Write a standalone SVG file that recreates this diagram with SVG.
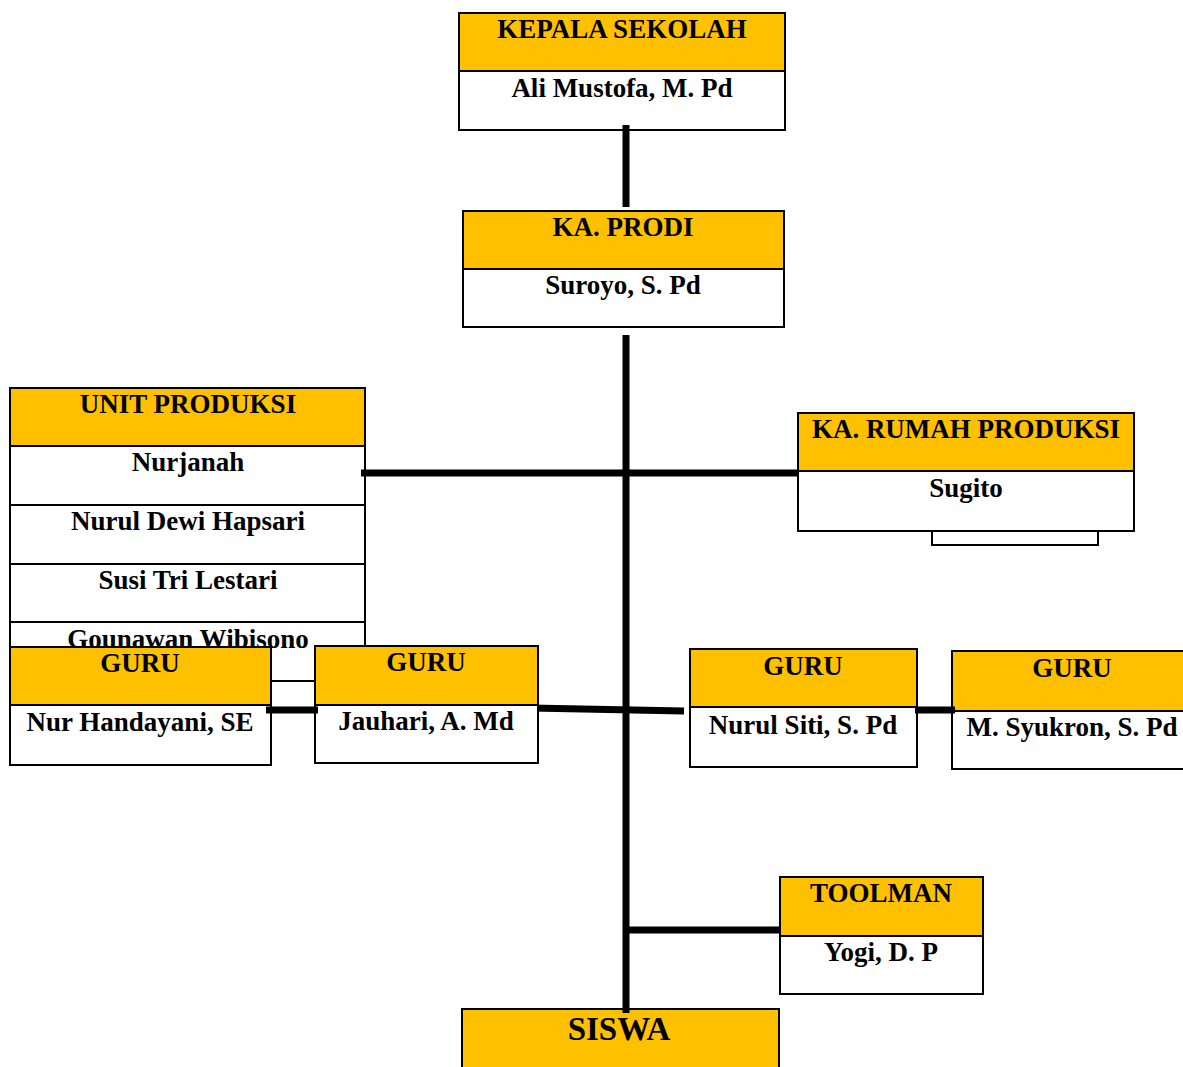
<svg xmlns="http://www.w3.org/2000/svg" width="1183" height="1067" viewBox="0 0 1183 1067">
<style>
.hd{fill:#FFC000;stroke:#000;stroke-width:2}
.bd{fill:#fff;stroke:#000;stroke-width:2}
.t{font-family:"Liberation Serif","Times New Roman",serif;font-weight:bold;font-size:27px;fill:#000;text-anchor:middle}
.big{font-size:33px}
.c{stroke:#000;stroke-width:7;fill:none}
</style>
<rect width="1183" height="1067" fill="#fff"/>
<g id="kepala">
<rect class="bd" x="459" y="13" width="326" height="117"/>
<rect class="hd" x="459" y="13" width="326" height="58"/>
<text class="t" x="622" y="38">KEPALA SEKOLAH</text>
<text class="t" x="622" y="97">Ali Mustofa, M. Pd</text>
</g>
<g id="kaprodi">
<rect class="bd" x="463" y="211" width="321" height="116"/>
<rect class="hd" x="463" y="211" width="321" height="58"/>
<text class="t" x="623" y="236">KA. PRODI</text>
<text class="t" x="623" y="294">Suroyo, S. Pd</text>
</g>
<g id="unit">
<rect class="bd" x="10" y="388" width="355" height="293"/>
<rect class="hd" x="10" y="388" width="355" height="58"/>
<line x1="10" y1="505" x2="365" y2="505" stroke="#000" stroke-width="2"/>
<line x1="10" y1="564" x2="365" y2="564" stroke="#000" stroke-width="2"/>
<line x1="10" y1="622" x2="365" y2="622" stroke="#000" stroke-width="2"/>
<text class="t" x="188" y="413">UNIT PRODUKSI</text>
<text class="t" x="188" y="471">Nurjanah</text>
<text class="t" x="188" y="530">Nurul Dewi Hapsari</text>
<text class="t" x="188" y="589">Susi Tri Lestari</text>
<text class="t" x="188" y="648">Gounawan Wibisono</text>
</g>
<g id="rumah">
<rect class="bd" x="932" y="525" width="166" height="20"/>
<rect class="bd" x="798" y="413" width="336" height="118"/>
<rect class="hd" x="798" y="413" width="336" height="58"/>
<text class="t" x="966" y="438">KA. RUMAH PRODUKSI</text>
<text class="t" x="966" y="497">Sugito</text>
</g>
<g id="siswa">
<rect class="hd" x="462" y="1009" width="317" height="70"/>
<text class="t big" x="619" y="1040">SISWA</text>
</g>
<g id="connectors">
<line class="c" x1="626" y1="125" x2="626" y2="207"/>
<line class="c" x1="626" y1="335" x2="626" y2="1013"/>
<line class="c" x1="361" y1="473" x2="797" y2="473"/>
<line class="c" x1="531" y1="708" x2="684" y2="711"/>
<line class="c" x1="626" y1="930" x2="782" y2="930"/>
</g>
<g id="guru1">
<rect class="bd" x="10" y="647" width="261" height="118"/>
<rect class="hd" x="10" y="647" width="261" height="58"/>
<text class="t" x="140" y="672">GURU</text>
<text class="t" x="140" y="731">Nur Handayani, SE</text>
</g>
<g id="guru2">
<rect class="bd" x="315" y="646" width="223" height="117"/>
<rect class="hd" x="315" y="646" width="223" height="59"/>
<text class="t" x="426" y="671">GURU</text>
<text class="t" x="426" y="730">Jauhari, A. Md</text>
</g>
<g id="guru3">
<rect class="bd" x="690" y="649" width="227" height="118"/>
<rect class="hd" x="690" y="649" width="227" height="58"/>
<text class="t" x="803" y="675">GURU</text>
<text class="t" x="803" y="734">Nurul Siti, S. Pd</text>
</g>
<g id="guru4">
<rect class="bd" x="952" y="651" width="240" height="118"/>
<rect class="hd" x="952" y="651" width="240" height="60"/>
<text class="t" x="1072" y="677">GURU</text>
<text class="t" x="1072" y="736">M. Syukron, S. Pd</text>
</g>
<g id="toolman">
<rect class="bd" x="780" y="877" width="203" height="117"/>
<rect class="hd" x="780" y="877" width="203" height="59"/>
<text class="t" x="881" y="902">TOOLMAN</text>
<text class="t" x="881" y="961">Yogi, D. P</text>
</g>
<g id="connectors2">
<line class="c" x1="266" y1="710" x2="318" y2="710"/>
<line class="c" x1="915" y1="710" x2="955" y2="710"/>
</g>
</svg>
